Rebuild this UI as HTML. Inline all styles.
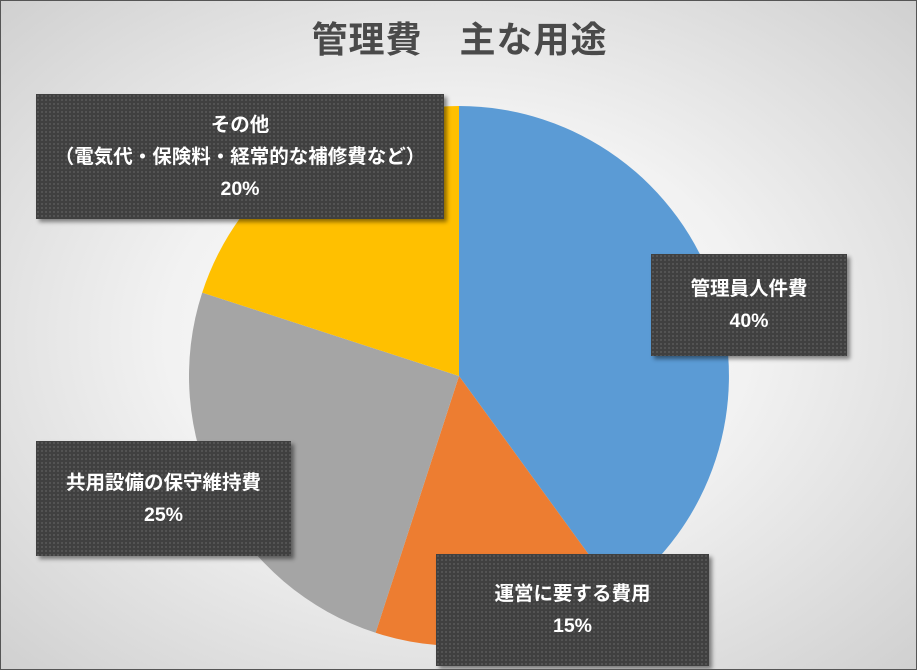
<!DOCTYPE html>
<html><head><meta charset="utf-8"><style>
body{margin:0;}
#c{position:relative;width:915px;height:668px;border:1px solid #555;overflow:hidden;
background:radial-gradient(ellipse at 50% 50%,#ffffff 0%,#f2f2f2 45%,#d0d0d0 100%);
font-family:"Liberation Sans","Noto Sans CJK JP",sans-serif;}
.t{position:absolute;left:0;width:917px;top:10px;text-align:center;font-size:36px;font-weight:bold;color:#4a4a4a;letter-spacing:1px}
.b{position:absolute;background-color:#404040;
background-image:radial-gradient(#555 1px,transparent 1.2px);background-size:4px 4px;
color:#fff;font-weight:bold;font-size:19.5px;text-align:center;box-shadow:3px 3px 4px rgba(0,0,0,.45);
display:flex;flex-direction:column;justify-content:center;line-height:32px}
</style></head><body><div id="c">
<div class="t">管理費　主な用途</div>
<svg width="915" height="668" style="position:absolute;left:0;top:0">
<path d="M458,375 L458,105 A270,270 0 0 1 616.7,593.4 Z" fill="#5b9bd5"/>
<path d="M458,375 L616.7,593.4 A270,270 0 0 1 374.6,631.8 Z" fill="#ed7d31"/>
<path d="M458,375 L374.6,631.8 A270,270 0 0 1 201.2,291.6 Z" fill="#a5a5a5"/>
<path d="M458,375 L201.2,291.6 A270,270 0 0 1 458,105 Z" fill="#ffc000"/>
</svg>
<div class="b" style="left:35px;top:93px;width:408px;height:125px"><div>その他</div><div>（電気代・保険料・経常的な補修費など）</div><div>20%</div></div>
<div class="b" style="left:650px;top:253px;width:196px;height:102px"><div>管理員人件費</div><div>40%</div></div>
<div class="b" style="left:35px;top:440px;width:255px;height:115px"><div>共用設備の保守維持費</div><div>25%</div></div>
<div class="b" style="left:435px;top:553px;width:273px;height:112px"><div>運営に要する費用</div><div>15%</div></div>
</div></body></html>
